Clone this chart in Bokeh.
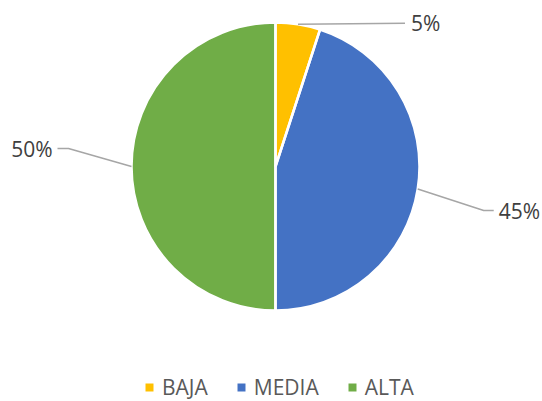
import numpy as np
from bokeh.plotting import figure
from bokeh.models import ColumnDataSource, Legend, LegendItem, Range1d
from bokeh.core.properties import value
from bokeh.embed import file_html
from bokeh.resources import INLINE

# ---- data ----
categories = ["BAJA", "MEDIA", "ALTA"]
values = [5, 45, 50]
pct_labels = ["5%", "45%", "50%"]

# ---- style ----
colors = ["#FFC000", "#4472C4", "#70AD47"]
FONT = "Open Sans"
W, H = 542, 401
CX, CY, R = 275, 235, 144
# leader line geometry (screen px offsets from slice edge midpoint)
elbow_dx = [107, 66, -63]
elbow_dy = [1, -21.5, 18]
tail_dx = [0, 10, -11]
text_gap = [6, 5, -5]
aligns = ["left", "left", "right"]

vals = np.array(values, dtype=float)
frac = vals / vals.sum()
ends = np.cumsum(frac)
starts = ends - frac
start_angle = np.pi / 2 - starts * 2 * np.pi
end_angle = np.pi / 2 - ends * 2 * np.pi
mid_angle = (start_angle + end_angle) / 2

src = ColumnDataSource(dict(
    x=[CX] * len(vals), y=[CY] * len(vals),
    start=start_angle, end=end_angle, color=colors, cat=categories,
))

p = figure(width=W, height=H, x_range=Range1d(0, W), y_range=Range1d(0, H),
           output_backend="svg", toolbar_location=None, min_border=0)
p.axis.visible = False
p.grid.visible = False
p.outline_line_color = None
p.background_fill_color = "white"
p.border_fill_color = "white"

pie = p.wedge(x="x", y="y", radius=R, start_angle="start", end_angle="end",
              direction="clock", fill_color="color", line_color=None, source=src)
p.wedge(x="x", y="y", radius=R, start_angle="start", end_angle="end",
        direction="clock", fill_color=None, line_color="white", line_width=2.5,
        source=src)

# leader lines and labels
ax = CX + R * np.cos(mid_angle)
ay = CY + R * np.sin(mid_angle)
ex = ax + np.array(elbow_dx)
ey = ay + np.array(elbow_dy)
tx = ex + np.array(tail_dx)
xs = [[a, e, t] for a, e, t in zip(ax, ex, tx)]
ys = [[a, e, e2] for a, e, e2 in zip(ay, ey, ey)]
p.multi_line(xs=xs, ys=ys, line_color="#A6A6A6", line_width=1.5)

for i in range(len(vals)):
    p.text(x=[tx[i] + text_gap[i]], y=[ey[i]], text=[pct_labels[i]],
           text_align=aligns[i], text_baseline="middle",
           text_font=value(FONT), text_font_size="21px", text_color="#404040")

items = [LegendItem(label=value(c), renderers=[pie], index=i)
         for i, c in enumerate(categories)]
legend = Legend(items=items, orientation="horizontal", location=(144, 0),
                glyph_width=10, glyph_height=10, label_standoff=8, spacing=28,
                padding=0, margin=0, border_line_color=None,
                background_fill_alpha=0,
                label_text_font=FONT, label_text_font_size="21px",
                label_text_color="#595959")
p.add_layout(legend)

open("out.html", "w").write(file_html(p, INLINE))
